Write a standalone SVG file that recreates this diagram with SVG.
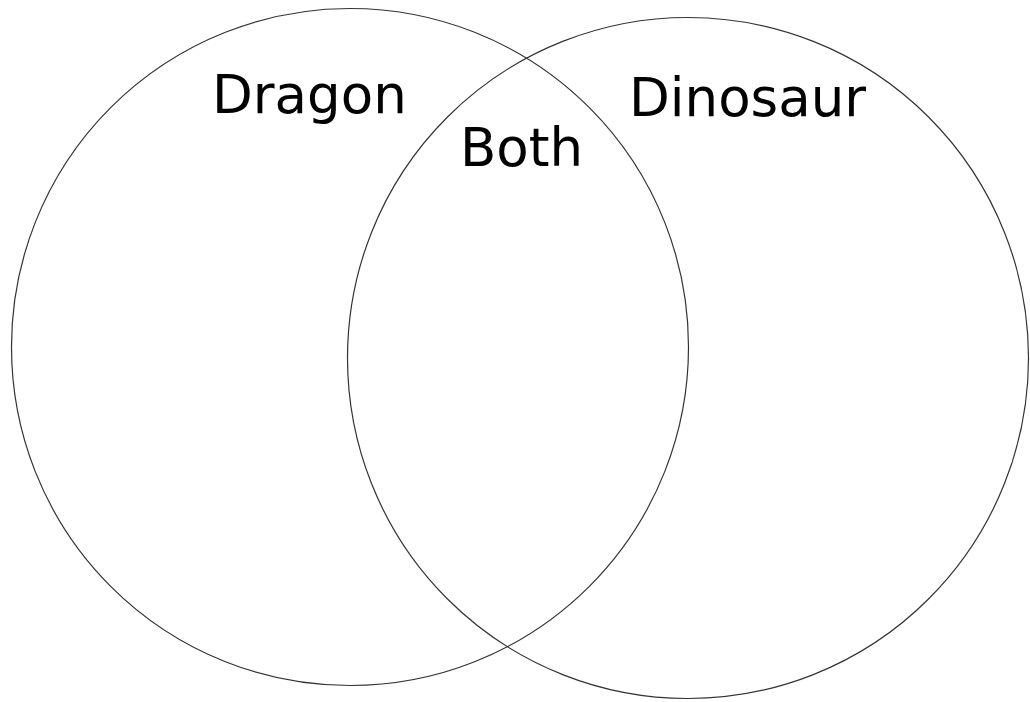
<svg xmlns="http://www.w3.org/2000/svg" width="1030" height="702" viewBox="0 0 1030 702">
<style>
.c{fill:none;stroke:#333;stroke-width:1.2}
.t{font-family:"DejaVu Sans",Verdana,sans-serif;font-size:53px;fill:#000}
</style>
<rect width="1030" height="702" fill="#fff"/>
<g id="dragon"><circle class="c" cx="350" cy="347" r="338.5"/><text class="t" x="212" y="113">Dragon</text></g>
<g id="dinosaur"><circle class="c" cx="688" cy="358" r="340.5"/><text class="t" x="629" y="116">Dinosaur</text></g>
<g id="both"><text class="t" x="460" y="166">Both</text></g>
</svg>
